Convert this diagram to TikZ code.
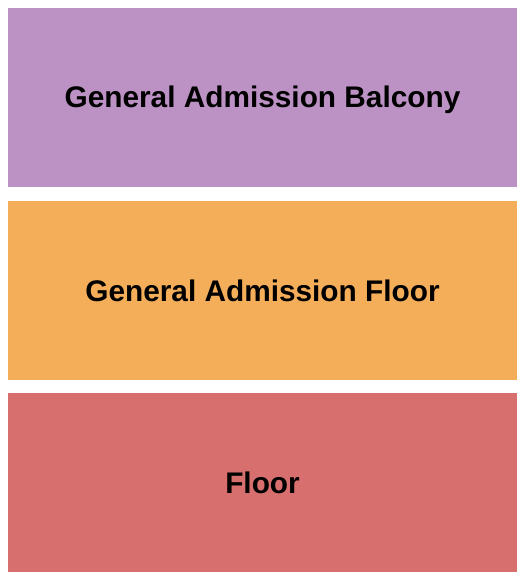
\documentclass[tikz,border=0pt]{standalone}
\usepackage{fontspec}
\setmainfont{Liberation Sans}
\usepackage{tikz}
\usetikzlibrary{positioning}
\definecolor{balconycol}{HTML}{BC91C3}
\definecolor{gafloorcol}{HTML}{F4AE5A}
\definecolor{floorcol}{HTML}{D66F6D}
\begin{document}
\begin{tikzpicture}[x=1pt,y=1pt,
section/.style={inner sep=0pt,outer sep=0pt,minimum width=509pt,minimum height=179pt,
text height=21pt,text depth=0pt,font=\fontsize{29.8}{36}\selectfont\bfseries}]
\useasboundingbox (0,0) rectangle (525,-580);
\node[section,fill=balconycol,anchor=north west] (balcony) at (8,-8) {General Admission Balcony};
\node[section,fill=gafloorcol,below=14pt of balcony] (gafloor) {General Admission Floor};
\node[section,fill=floorcol,below=13pt of gafloor] (floor) {Floor};
\end{tikzpicture}
\end{document}
